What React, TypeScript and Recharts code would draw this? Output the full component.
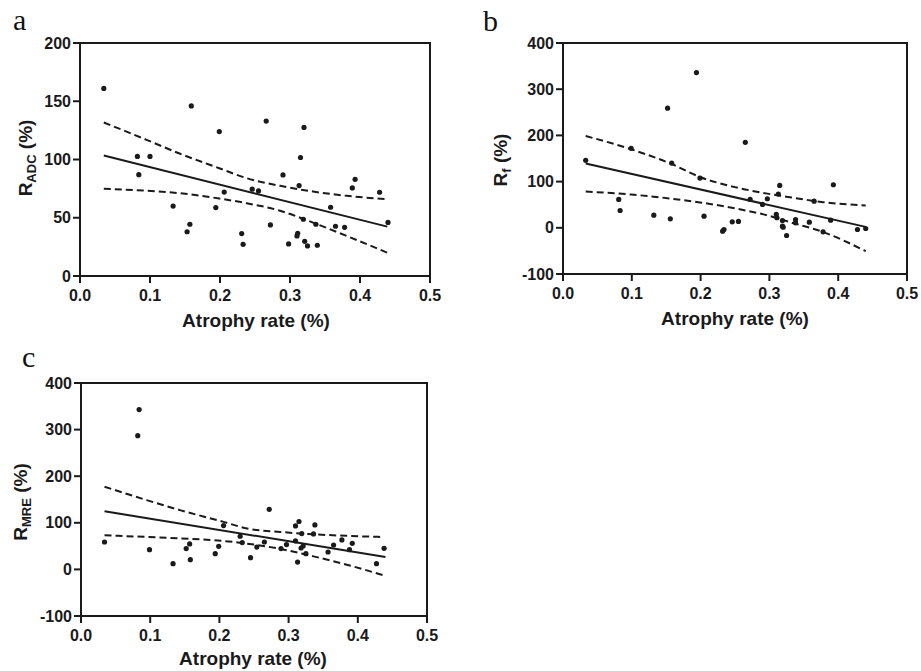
import React from 'react';
import { ComposedChart, Scatter, Line, XAxis, YAxis, ReferenceArea } from 'recharts';

// ---------- shared ----------
const xTicks = [0, 0.1, 0.2, 0.3, 0.4, 0.5];
const yTicksA = [0, 50, 100, 150, 200];
const yTicksB = [-100, 0, 100, 200, 300, 400];
const yTicksC = [-100, 0, 100, 200, 300, 400];
const xTitle = 'Atrophy rate (%)';

// ---------- panel a: R_ADC ----------
const atrophyA = [0.034, 0.159, 0.199, 0.266, 0.320, 0.082, 0.100, 0.084, 0.315, 0.290, 0.313, 0.393, 0.389, 0.428, 0.246, 0.255, 0.206, 0.133, 0.194, 0.358, 0.319, 0.157, 0.153, 0.272, 0.337, 0.365, 0.378, 0.440, 0.231, 0.233, 0.298, 0.311, 0.310, 0.321, 0.325, 0.339];
const radc = [161, 146, 124, 133, 127.5, 102.6, 102.6, 87, 101.7, 86.8, 77.6, 83, 75.6, 71.9, 74.5, 73, 72, 60, 58.7, 59, 48.7, 44.4, 38, 43.8, 44.4, 42.7, 41.8, 46, 36.4, 27.2, 27.5, 36.7, 34.4, 29.8, 25.8, 26.4];
const fitXA = [0.034, 0.439];
const fitYA = [103.4, 42.4];
const bandXA = [0.034, 0.095, 0.143, 0.199, 0.238, 0.286, 0.333, 0.381, 0.439];
const upperA = [131.8, 116.9, 104.9, 92.5, 84, 77.4, 72.5, 68.8, 65.9];
const lowerA = [74.8, 73.2, 71, 66.5, 62.5, 56, 45.8, 34.4, 20];

// ---------- panel b: R_f ----------
const atrophyB = [0.194, 0.152, 0.265, 0.033, 0.099, 0.158, 0.199, 0.315, 0.393, 0.313, 0.297, 0.272, 0.081, 0.290, 0.365, 0.083, 0.132, 0.156, 0.205, 0.310, 0.311, 0.319, 0.338, 0.338, 0.358, 0.389, 0.246, 0.255, 0.232, 0.234, 0.319, 0.320, 0.325, 0.378, 0.428, 0.440];
const rf = [336, 259, 185, 146, 172, 140, 107.6, 91.8, 93.2, 72.9, 62.9, 61.4, 61.4, 50.5, 57.7, 37.5, 27.3, 19.5, 25.2, 28.9, 21.7, 15.8, 18, 10.8, 12.2, 16.5, 13, 13.7, -7.3, -3.7, 3.5, 1.3, -16.7, -8.7, -3.7, -1.5];
const fitXB = [0.033, 0.44];
const fitYB = [139, 2];
const bandXB = [0.033, 0.099, 0.158, 0.199, 0.25, 0.297, 0.335, 0.378, 0.44];
const upperB = [198.7, 170, 138, 110, 88, 74, 65, 55.5, 48.5];
const lowerB = [78.5, 72, 63, 55, 42, 27, 10, -9, -50.7];

// ---------- panel c: R_MRE ----------
const atrophyC = [0.084, 0.082, 0.272, 0.034, 0.099, 0.133, 0.152, 0.157, 0.158, 0.194, 0.199, 0.206, 0.230, 0.233, 0.245, 0.254, 0.265, 0.289, 0.297, 0.310, 0.315, 0.310, 0.313, 0.319, 0.318, 0.321, 0.325, 0.336, 0.338, 0.357, 0.365, 0.377, 0.388, 0.392, 0.427, 0.438];
const rmre = [343, 287, 129, 58.8, 42.4, 12.2, 44.6, 54.6, 20.8, 33.8, 49.6, 94.1, 71.1, 57.5, 25.2, 48, 58.8, 44.6, 53.2, 93.3, 102.8, 61, 15.7, 76.9, 45.9, 50.2, 33.8, 76.1, 95.5, 37.3, 52.4, 63.2, 42.4, 56, 12.2, 45.3];
const fitXC = [0.034, 0.44];
const fitYC = [125, 26.5];
const bandXC = [0.034, 0.095, 0.143, 0.206, 0.24, 0.288, 0.336, 0.384, 0.436];
const upperC = [177.5, 148.7, 127.2, 102, 87.7, 80.4, 75.4, 72, 69.6];
const lowerC = [73.3, 69.6, 66.6, 61, 55.3, 44, 28, 10, -12];

const FONT = '"Liberation Sans", Arial, Helvetica, sans-serif';
const INK = '#1a1a1a';

const zip = (xs: number[], ys: number[]) => xs.map((x, i) => ({ x, y: ys[i] }));

type PanelProps = {
  left: number; top: number; width: number; height: number;
  margin: { top: number; right: number; bottom: number; left: number };
  xs: number[]; ys: number[];
  fitX: number[]; fitY: number[];
  bandX: number[]; upper: number[]; lower: number[];
  yDomain: [number, number]; yTicks: number[];
  sub: string;
  letter: string; letterPos: [number, number];
  yTitlePos: [number, number];
  xTitlePos: [number, number];
};

const Dot = (props: any) => {
  const { cx, cy } = props;
  if (cx == null || cy == null) return null;
  return <circle cx={cx} cy={cy} r={2.6} fill={INK} />;
};

function Panel(p: PanelProps) {
  const pts = zip(p.xs, p.ys);
  const fit = zip(p.fitX, p.fitY);
  const up = zip(p.bandX, p.upper);
  const lo = zip(p.bandX, p.lower);
  const titles = () => (
    <g>
      <text x={p.letterPos[0]} y={p.letterPos[1]} fontFamily='"Liberation Serif", "Times New Roman", serif' fontSize={30} fill="#111">{p.letter}</text>
      <text
        transform={`translate(${p.yTitlePos[0]},${p.yTitlePos[1]}) rotate(-90)`}
        textAnchor="middle"
        fontFamily={FONT}
        fontWeight="bold"
        fontSize={19}
        fill={INK}
      >
        <tspan>R</tspan>
        <tspan fontSize={13} dy={4}>{p.sub}</tspan>
        <tspan dy={-4}> (%)</tspan>
      </text>
      <text x={p.xTitlePos[0]} y={p.xTitlePos[1]} textAnchor="middle" fontFamily={FONT} fontWeight="bold" fontSize={19} fill={INK}>{xTitle}</text>
    </g>
  );
  const tickStyle = { fill: INK, fontSize: 16, fontWeight: 'bold', fontFamily: FONT };
  return (
    <div style={{ position: 'absolute', left: p.left, top: p.top, width: p.width, height: p.height }}>
      <ComposedChart width={p.width} height={p.height} margin={p.margin}>
        <XAxis
          type="number"
          dataKey="x"
          domain={[0, 0.5]}
          ticks={xTicks}
          interval={0}
          allowDataOverflow
          tickFormatter={(v: number) => v.toFixed(1)}
          stroke={INK}
          strokeWidth={2}
          tickSize={7}
          tickMargin={7}
          height={30}
          tick={tickStyle}
        />
        <YAxis
          type="number"
          dataKey="y"
          domain={p.yDomain}
          ticks={p.yTicks}
          interval={0}
          allowDataOverflow
          stroke={INK}
          strokeWidth={2}
          tickSize={7}
          tickMargin={2}
          width={60}
          tick={tickStyle}
          label={{ content: titles }}
        />
        <ReferenceArea x1={0} x2={0.5} y1={p.yDomain[0]} y2={p.yDomain[1]} fill="none" stroke={INK} strokeWidth={2} />
        <Line data={up} dataKey="y" type="monotone" stroke={INK} strokeWidth={2} strokeDasharray="7 4" dot={false} activeDot={false} isAnimationActive={false} />
        <Line data={lo} dataKey="y" type="monotone" stroke={INK} strokeWidth={2} strokeDasharray="7 4" dot={false} activeDot={false} isAnimationActive={false} />
        <Line data={fit} dataKey="y" type="linear" stroke={INK} strokeWidth={2} dot={false} activeDot={false} isAnimationActive={false} />
        <Scatter data={pts} dataKey="y" fill={INK} shape={Dot} isAnimationActive={false} />
      </ComposedChart>
    </div>
  );
}

export default function App() {
  return (
    <div style={{ position: 'absolute', left: 0, top: 0, width: 921, height: 671, background: '#fff', overflow: 'hidden' }}>
      <Panel
        left={0} top={0} width={460} height={335}
        margin={{ top: 43, right: 30, bottom: 29, left: 20 }}
        xs={atrophyA} ys={radc} fitX={fitXA} fitY={fitYA}
        bandX={bandXA} upper={upperA} lower={lowerA}
        yDomain={[0, 200]} yTicks={yTicksA} sub="ADC"
        letter="a" letterPos={[13, 30]} yTitlePos={[32, 158]} xTitlePos={[256, 327]}
      />
      <Panel
        left={460} top={0} width={461} height={335}
        margin={{ top: 43, right: 14, bottom: 31, left: 43 }}
        xs={atrophyB} ys={rf} fitX={fitXB} fitY={fitYB}
        bandX={bandXB} upper={upperB} lower={lowerB}
        yDomain={[-100, 400]} yTicks={yTicksB} sub="f"
        letter="b" letterPos={[23, 31]} yTitlePos={[47, 160]} xTitlePos={[275, 325]}
      />
      <Panel
        left={0} top={335} width={460} height={336}
        margin={{ top: 48, right: 33, bottom: 25, left: 21 }}
        xs={atrophyC} ys={rmre} fitX={fitXC} fitY={fitYC}
        bandX={bandXC} upper={upperC} lower={lowerC}
        yDomain={[-100, 400]} yTicks={yTicksC} sub="MRE"
        letter="c" letterPos={[22, 32]} yTitlePos={[27, 167]} xTitlePos={[253, 330]}
      />
    </div>
  );
}
